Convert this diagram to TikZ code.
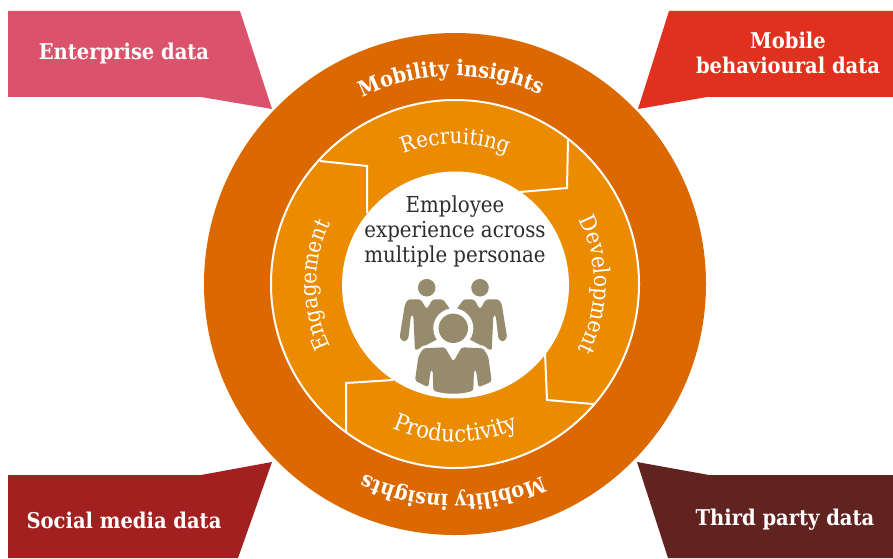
\documentclass[tikz,border=0pt]{standalone}
\usepackage{fontspec}
\setmainfont{DejaVu Serif Condensed}
\usetikzlibrary{decorations.text}
\definecolor{roseblock}{HTML}{DB536B}
\definecolor{redblock}{HTML}{E0301E}
\definecolor{crimsonblock}{HTML}{A32020}
\definecolor{maroonblock}{HTML}{602320}
\definecolor{outerring}{HTML}{DC6900}
\definecolor{innerring}{HTML}{EB8C00}
\definecolor{personfill}{HTML}{968C6D}
\definecolor{bodytext}{HTML}{2D2D2D}
\tikzset{
    blocklabel/.style={text=white, font=\fontsize{21.7}{25}\selectfont\bfseries, align=center},
    separator/.style={draw=white, line width=2pt, line join=miter},
    person/.style={fill=personfill, draw=none, rounded corners=2.5pt},
    halo/.style={fill=white, draw=white, line width=6pt, line join=round, rounded corners=2.5pt},
}
\newcommand{\ringtext}[5]{% radius, from, to, size, text
    \path[decorate, decoration={text along path, text align=center,
        text={|\fontsize{#4}{#4}\selectfont\color{white}|#5}}]
        (455.5,273) ++(#2:#1) arc (#2:#3:#1);
}
\newcommand{\boldringtext}[4]{% radius, from, to, text
    \path[decorate, decoration={text along path, text align=center,
        text={|\fontsize{21.5}{21.5}\selectfont\bfseries\color{white}|#4}}]
        (455,274) ++(#2:#1) arc (#2:#3:#1);
}
\begin{document}
\begin{tikzpicture}[x=1pt, y=1pt]
    \useasboundingbox (0,0) rectangle (893,558);

    \fill[roseblock] (8,547) -- (240,547) -- (272,449) -- (201,461) -- (8,461) -- cycle;
    \fill[redblock] (893,547) -- (669,547) -- (638,449) -- (707,461) -- (893,461) -- cycle;
    \fill[crimsonblock] (8,83) -- (201,83) -- (272,96) -- (238,0) -- (8,0) -- cycle;
    \fill[maroonblock] (893,83) -- (709,83) -- (637,96) -- (668,0) -- (893,0) -- cycle;

    \node[blocklabel] (enterprise) at (124,504) {Enterprise data};
    \node[blocklabel] (mobile) at (788,505) {Mobile\\behavioural data};
    \node[blocklabel] (social) at (124,38) {Social media data};
    \node[blocklabel] (thirdparty) at (785,38) {Third party data};

    \fill[outerring] (455,274) circle (251);
    \draw[white, line width=2pt, fill=innerring] (455,274) circle (184);

    \draw[separator] (320,397) -- (367,392) -- (367,345);
    \draw[separator] (568,418) -- (567,370) -- (520,366);
    \draw[separator] (593,154) -- (547,158) -- (545,205);
    \draw[separator] (346,126) -- (346,175) -- (393,178);

    \fill[white] (455.5,273) circle (113.5);

    \boldringtext{208}{138}{44}{Mobility insights}
    \boldringtext{211}{-44}{-137}{Mobility insights}
    \ringtext{141}{130}{50}{22}{Recruiting}
    \ringtext{139}{45}{-45}{22.5}{Development}
    \ringtext{139}{225}{135}{22}{Engagement}
    \ringtext{157}{210}{330}{23.5}{Productivity}

    \node[text=bodytext, font=\fontsize{22}{25}\selectfont, align=center] (employee) at (455,327)
        {Employee\\experience across\\multiple personae};

    % the two people at the back
    \fill[personfill] (426.7,270.3) circle (8.8);
    \fill[personfill] (480,270.3) circle (8.8);
    \fill[person] (405,254) -- (408,258.7) -- (420.7,258.7) -- (426.7,248.7) -- (432.7,258.7) -- (443,258.7) -- (450,249) -- (450,225) -- (415,207.3) -- (413.3,243) -- (411,243) -- (408.3,219) -- (404,216) -- (399.5,220) -- cycle;
    \fill[person] (501.7,254) -- (498.7,258.7) -- (486,258.7) -- (480,248.7) -- (474,258.7) -- (463.7,258.7) -- (456.7,249) -- (456.7,225) -- (491.7,207.3) -- (493.4,243) -- (495.7,243) -- (498.4,219) -- (502.7,216) -- (507.2,220) -- cycle;

    % the one in front
    \fill[white] (453.3,229.7) circle (20);
    \fill[personfill] (453.3,229.7) circle (14.7);
    \draw[halo] (418.3,201.3) -- (423.3,209.7) -- (483.3,209.7) -- (488.3,201.3) -- (491.7,176.3) -- (415,177.3) -- cycle;
    \fill[person] (418.3,201.3) -- (423.3,209.7) -- (445,210.7) -- (453.3,196.3) -- (461.7,210.7) -- (483.3,209.7) -- (488.3,201.3) -- (491.7,176.3) -- (478.3,170.7) -- (476,188) -- (474,188) -- (473.3,167.3) .. controls (460,163.5) and (446,163.5) .. (433.3,167.3) -- (432.7,188) -- (430.7,188) -- (428.3,170.7) -- (415,177.3) -- cycle;
\end{tikzpicture}
\end{document}
